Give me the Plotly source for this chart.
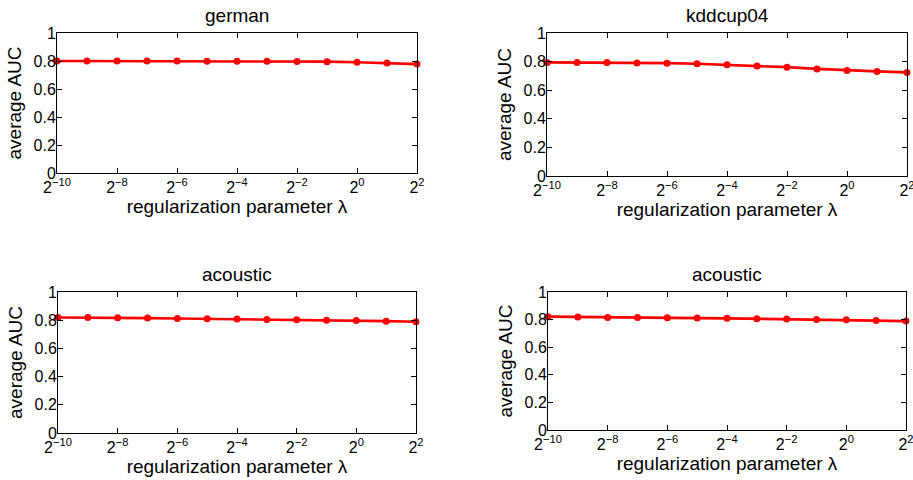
import plotly.graph_objects as go
import math

# Data
exponents = [-10, -9, -8, -7, -6, -5, -4, -3, -2, -1, 0, 1, 2]
titles = ["german", "kddcup04", "acoustic", "acoustic"]
german = [0.800, 0.800, 0.800, 0.800, 0.800, 0.799, 0.799, 0.798, 0.797, 0.795, 0.791, 0.786, 0.778]
kddcup04 = [0.794, 0.794, 0.794, 0.791, 0.789, 0.785, 0.778, 0.770, 0.761, 0.749, 0.738, 0.731, 0.724]
acoustic_a = [0.819, 0.819, 0.817, 0.815, 0.812, 0.810, 0.808, 0.805, 0.803, 0.800, 0.798, 0.793, 0.789]
acoustic_b = [0.821, 0.818, 0.816, 0.816, 0.814, 0.811, 0.809, 0.806, 0.804, 0.801, 0.799, 0.794, 0.789]
series = [german, kddcup04, acoustic_a, acoustic_b]
xtick_exps = [-10, -8, -6, -4, -2, 0, 2]
ytick_vals = [0, 0.2, 0.4, 0.6, 0.8, 1]
ytick_text = ["0", "0.2", "0.4", "0.6", "0.8", "1"]

W, H = 913, 480
# plot boxes in pixels (left, right, top, bottom)
boxes = [(57, 417, 33, 173), (547, 907, 33, 176), (58, 416, 292, 433), (548, 906, 292, 430)]

FONT = "Liberation Sans, Arial, sans-serif"
fig = go.Figure()
annotations = []
lam = [2.0 ** e for e in exponents]
for i, (vals, (l, r, t, b)) in enumerate(zip(series, boxes)):
    n = "" if i == 0 else str(i + 1)
    fig.add_trace(go.Scatter(
        x=lam, y=vals, mode="lines+markers",
        line=dict(color="#ff0000", width=2.7),
        marker=dict(color="#ff0000", size=7, symbol="circle"),
        xaxis="x" + n, yaxis="y" + n, showlegend=False, cliponaxis=False,
    ))
    xd = [l / W, r / W]
    yd = [1 - b / H, 1 - t / H]
    common = dict(showline=True, linecolor="black", linewidth=1, mirror="ticks",
                  ticks="inside", ticklen=5, tickcolor="black", showgrid=False,
                  zeroline=False, automargin=False, ticklabeloverflow="allow",
                  tickfont=dict(family=FONT, size=16, color="black"))
    fig.layout["xaxis" + n] = dict(
        domain=xd, anchor="y" + n, type="log",
        range=[math.log10(2.0 ** -10), math.log10(2.0 ** 2)],
        tickvals=[2.0 ** e for e in xtick_exps],
        ticktext=["2<sup>%s</sup>" % (str(e).replace("-", "\u2212")) for e in xtick_exps],
        title=dict(text="regularization parameter \u03bb", font=dict(family=FONT, size=19, color="black"), standoff=4),
        **common)
    fig.layout["yaxis" + n] = dict(
        domain=yd, anchor="x" + n, range=[0, 1],
        tickvals=ytick_vals, ticktext=ytick_text, ticklabelstandoff=-3,
        title=dict(text="average AUC", font=dict(family=FONT, size=19, color="black"), standoff=6),
        **common)
    annotations.append(dict(
        text=titles[i], x=(l + r) / 2 / W, y=1 - (t - 18) / H, xref="paper", yref="paper",
        xanchor="center", yanchor="middle", showarrow=False,
        font=dict(family=FONT, size=19, color="black")))

fig.update_layout(
    width=W, height=H, margin=dict(l=0, r=0, t=0, b=0, autoexpand=False),
    paper_bgcolor="white", plot_bgcolor="white", annotations=annotations,
)
fig.write_html("out.html", config={"displayModeBar": False},
               post_script="document.body.style.margin='0';document.body.style.overflow='hidden';")
